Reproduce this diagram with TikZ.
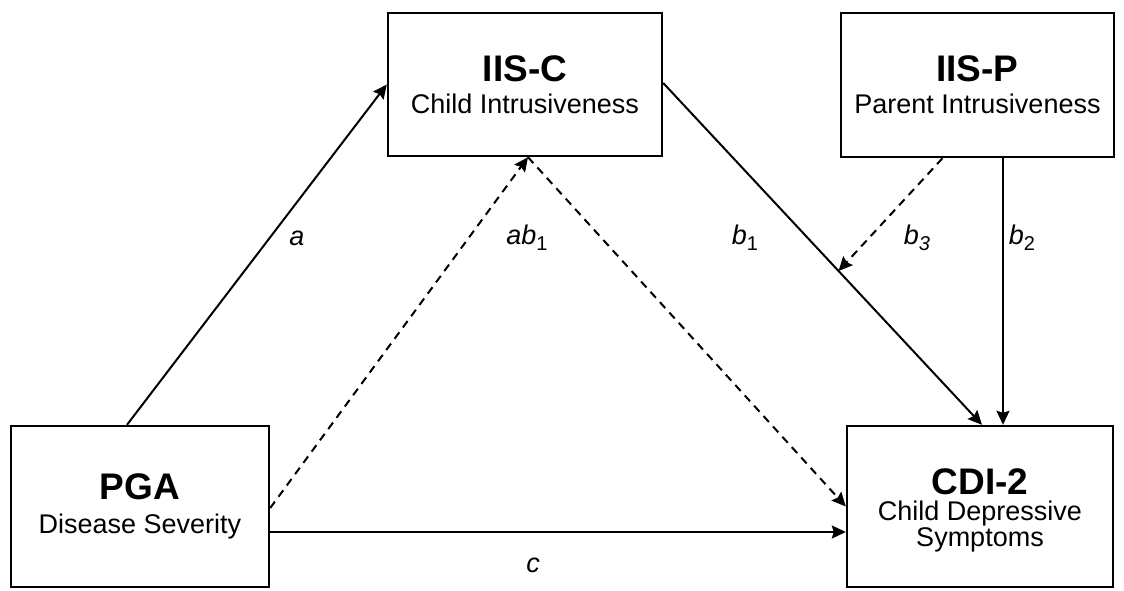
\documentclass[tikz,border=0pt]{standalone}
\usepackage{fontspec}
\setmainfont{Liberation Sans}
\usetikzlibrary{arrows.meta,calc}
\begin{document}
\begin{tikzpicture}[x=1pt,y=-1pt,
  box/.style={draw,line width=2.4pt,inner sep=0pt,align=center,font=\fontsize{27}{24}\selectfont},
  conn/.style={line width=2pt,-{Stealth[length=14pt,width=13pt,inset=2pt]}},
  dashconn/.style={conn,dash pattern=on 8pt off 6pt},
  lbl/.style={font=\fontsize{27}{30}\selectfont\itshape,inner sep=0pt}
]
\useasboundingbox (0,0) rectangle (1124,591);
\newcommand{\ttl}[1]{{\fontsize{37}{24}\selectfont\bfseries #1}}
\newcommand{\sbs}[1]{\raisebox{-6pt}{\fontsize{20}{20}\selectfont #1}}
\node[box,minimum width=274pt,minimum height=143pt] (iisc) at (525,84.5)
  {\ttl{IIS-C}\\[8pt]Child Intrusiveness};
\node[box,minimum width=273pt,minimum height=144pt] (iisp) at (977.5,85)
  {\ttl{IIS-P}\\[8pt]Parent Intrusiveness};
\node[box,minimum width=258pt,minimum height=161pt] (pga) at (140,506.5)
  {\ttl{PGA}\\[10pt]Disease Severity\\[-18pt]\mbox{}};
\node[box,minimum width=266pt,minimum height=161pt] (cdi) at (980,506.5)
  {\rule{0pt}{34pt}\ttl{CDI-2}\\[2pt]Child Depressive\\Symptoms};

\coordinate (b1s) at ($(iisc.east)+(0,-1.5)$);
\coordinate (b1e) at ($(cdi.north)+(2,0)$);
\coordinate (b3e) at ($(b1s)!0.55!(b1e)$);
\coordinate (tipc) at ($(iisc.south)+(3,0)$);

\draw[conn] ($(pga.north)+(-13,0)$) -- (iisc.west);
\draw[dashconn] ($(pga.east)+(0,1.5)$) -- (tipc);
\draw[dashconn] (tipc) -- (cdi.west);
\draw[conn] (b1s) -- (b1e);
\draw[dashconn] ($(iisp.south)+(-35,0)$) -- (b3e);
\draw[conn] ($(iisp.south)+(25.5,0)$) -- ($(cdi.north)+(23,0)$);
\draw[conn] ($(pga.east)+(0,25.5)$) -- ($(cdi.west)+(0,25.5)$);

\node[lbl] (la) at (297,238) {a};
\node[lbl] (lab) at (527,238) {ab\sbs{\upshape 1}};
\node[lbl] (lb1) at (745,238) {b\sbs{\upshape 1}};
\node[lbl] (lb3) at (917,238) {b\sbs{3}};
\node[lbl] (lb2) at (1022,238) {b\sbs{\upshape 2}};
\node[lbl] (lc) at (533,565) {c};
\end{tikzpicture}
\end{document}
